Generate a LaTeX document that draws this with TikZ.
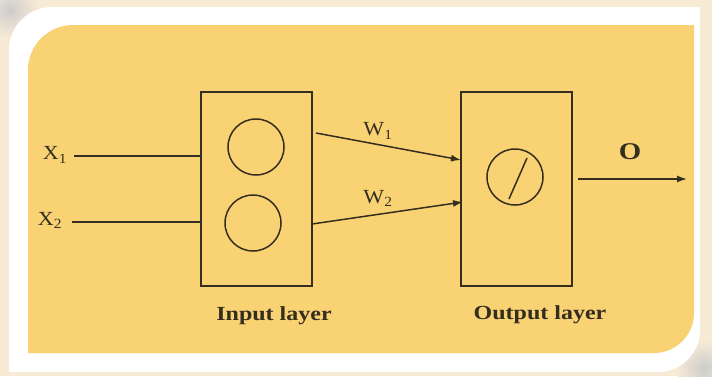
\documentclass[tikz,border=0pt]{standalone}
\usepackage{fontspec}
\setmainfont{Liberation Serif}
\usepackage{xcolor}
\usetikzlibrary{arrows.meta, positioning, calc}
\definecolor{bgbeige}{RGB}{248,235,214}
\definecolor{panelyel}{RGB}{249,210,116}
\definecolor{inkline}{RGB}{52,46,30}
\tikzset{
  wire/.style={draw=inkline, line width=1.5pt},
  layerbox/.style={draw=inkline, line width=1.5pt, minimum width=111pt, minimum height=194pt, inner sep=0pt},
  neuron/.style={draw=inkline, line width=1.5pt, circle, minimum size=56pt, inner sep=0pt},
  varlabel/.style={text=inkline, font=\fontsize{20}{24}\selectfont, inner sep=0pt, xscale=1.1},
  layerlabel/.style={text=inkline, font=\fontsize{20}{24}\selectfont\bfseries, inner sep=0pt, xscale=1.2},
  tip/.style={-{Latex[length=10pt,width=7pt]}}
}
\begin{document}
\begin{tikzpicture}[x=1pt, y=-1pt]
  \useasboundingbox (0,0) rectangle (712,376);
  \clip (0,0) rectangle (712,376);
  % background, frame and panel
  \fill[bgbeige] (0,0) rectangle (712,376);
  \shade[inner color=gray!40, outer color=bgbeige] (10,10) circle (28);
  \shade[inner color=gray!40, outer color=bgbeige] (704,368) circle (28);
  \fill[white] (9,372) -- (9,50) arc[start angle=180, end angle=270, radius=43] -- (700,7) -- (700,330) arc[start angle=0, end angle=90, radius=42] -- cycle;
  \fill[panelyel] (28,353) -- (28,70) arc[start angle=180, end angle=270, radius=45] -- (694,25) -- (694,313) arc[start angle=0, end angle=90, radius=40] -- cycle;
  % layers
  \node[layerbox] (inbox) at (256.5,189) {};
  \node[layerbox] (outbox) at (516.5,189) {};
  \node[neuron] (n1) at (256,147) {};
  \node[neuron] (n2) at (253,223) {};
  \node[neuron] (nout) at (515,177) {};
  \draw[wire] ($(nout.center)+(-6,22)$) -- ($(nout.center)+(12,-19)$);
  % inputs
  \node[varlabel] (x1) at (55,155) {X$_{\mathrm{1}}$};
  \node[varlabel] (x2) at (50,220) {X$_{\mathrm{2}}$};
  \coordinate (x1s) at (74,156);
  \coordinate (x2s) at (72,222);
  \draw[wire] (x1s) -- (x1s -| inbox.west);
  \draw[wire] (x2s) -- (x2s -| inbox.west);
  % weights
  \coordinate (w1s) at (316,133);
  \coordinate (w1e) at (461,160);
  \coordinate (w2s) at (312,224);
  \coordinate (w2e) at (463,202);
  \draw[wire, tip] (w1s) -- (w1e);
  \draw[wire, tip] (w2s) -- (w2e);
  \node[varlabel] (w1) at (378,131) {W$_{\mathrm{1}}$};
  \node[varlabel] (w2) at (378,198) {W$_{\mathrm{2}}$};
  % output
  \coordinate (os) at (578,179);
  \coordinate (oe) at (687,179);
  \draw[wire, tip] (os) -- (oe);
  \node[layerlabel, font=\fontsize{24}{28}\selectfont\bfseries] (olab) at (630,152) {O};
  \node[layerlabel] (inlab) at (274,316) {Input layer};
  \node[layerlabel] (outlab) at (540,315) {Output layer};
\end{tikzpicture}
\end{document}
